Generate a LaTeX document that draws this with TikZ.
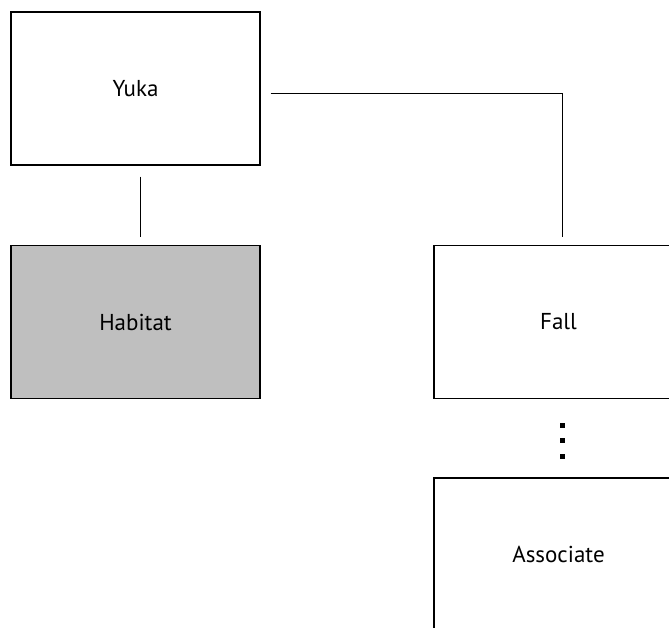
\documentclass[tikz,border=0pt]{standalone}
\usepackage{fontspec}
\setmainfont{PT Sans}
\begin{document}
\begin{tikzpicture}[x=1pt,y=-1pt,
  box/.style={draw=black, line width=1.1pt, rectangle, minimum width=249pt, minimum height=153pt, inner sep=0pt, font=\fontsize{23}{27}\selectfont},
  conn/.style={line width=1pt},
  dotmark/.style={fill=black, minimum size=5pt, inner sep=0pt, rectangle}]
\useasboundingbox (0,0) rectangle (669,627);
\clip (0,0) rectangle (669,627);
\node[box] (yuka) at (135.5,88.5) {Yuka};
\node[box, fill=black!25] (habitat) at (135.5,322) {Habitat};
\node[box] (fall) at (558.5,322) {Fall};
\node[box] (assoc) at (558.5,554.5) {Associate};
\coordinate (yukaB) at ([xshift=4.5pt,yshift=-11pt]yuka.south);
\coordinate (habT) at ([xshift=4.5pt,yshift=8pt]habitat.north);
\draw[conn] (yukaB) -- (habT);
\coordinate (yukaR) at ([xshift=10pt,yshift=-4.5pt]yuka.east);
\coordinate (fallT) at ([xshift=3.5pt,yshift=8pt]fall.north);
\draw[conn] (yukaR) -| (fallT);
\node[dotmark] (d1) at (562.5,425.5) {};
\node[dotmark] (d2) at (562.5,440.5) {};
\node[dotmark] (d3) at (562.5,456.5) {};
\end{tikzpicture}
\end{document}
